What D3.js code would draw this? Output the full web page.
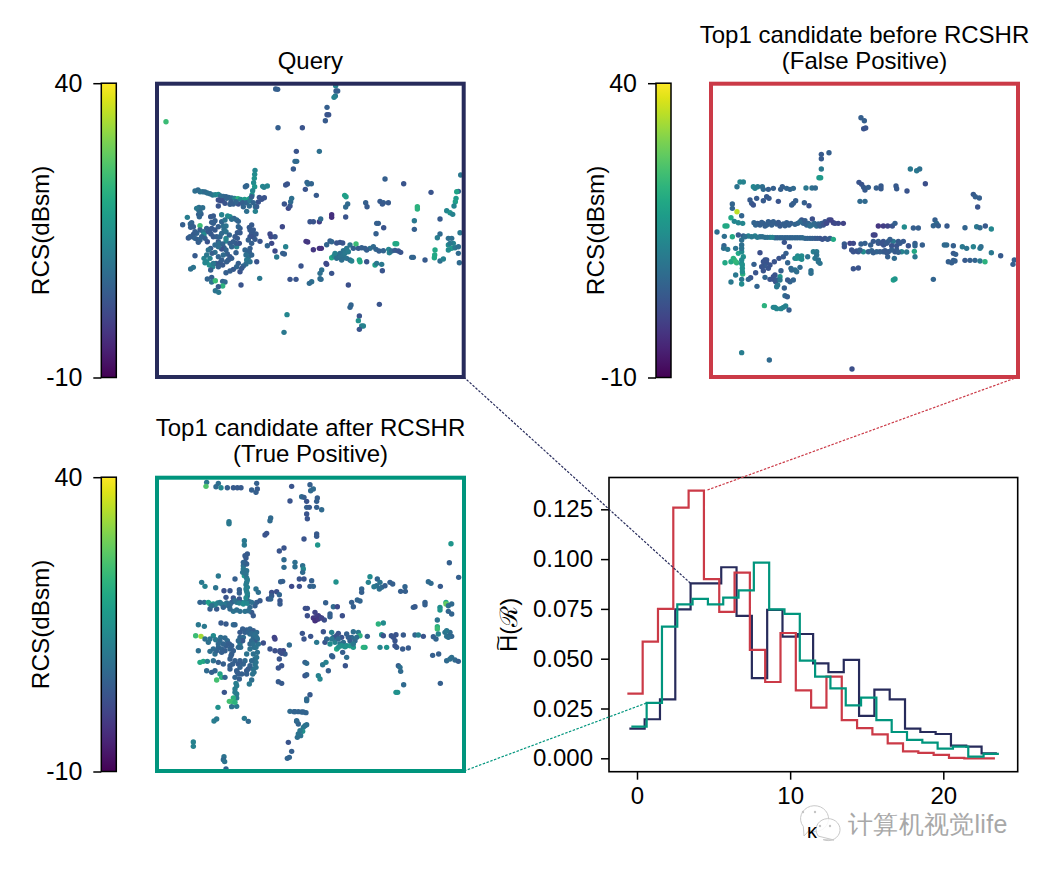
<!DOCTYPE html>
<html><head><meta charset="utf-8">
<script src="https://cdn.jsdelivr.net/npm/d3@7"></script>
<style>html,body{margin:0;background:#fff}svg{display:block}text{font-family:"Liberation Sans",Arial,sans-serif;fill:#000}</style>
</head><body><svg id="c" width="1044" height="870"></svg>
<script>
// scatter points: [x, y, RCS dBsm]; x, y in bird's-eye units (frame spans about 920 x 880 units)
const queryPoints=[[377,27,5],[383,28,5],[557,17,12],[558,33,5],[563,33,5],[556,48,10],[552,52,12],[531,82,5],[531,104,3],[536,104,3],[526,122,4],[384,143,5],[457,143,3],[48,125,24],[439,214,3],[508,214,8],[435,244,7],[440,244,7],[430,267,4],[315,271,13],[314,283,14],[313,295,15],[311,308,14],[314,320,16],[308,332,13],[306,345,15],[300,355,14],[290,317,6],[286,320,6],[338,319,13],[352,318,13],[342,322,12],[412,312,3],[407,315,3],[471,307,6],[474,312,7],[484,311,6],[466,328,3],[499,346,4],[135,333,8],[144,330,7],[150,335,8],[158,335,9],[165,336,7],[172,339,8],[180,341,8],[188,345,9],[196,344,12],[205,343,14],[212,348,8],[220,349,7],[228,350,6],[236,352,6],[245,354,7],[254,355,12],[264,356,22],[272,358,14],[284,358,17],[296,358,18],[205,360,2],[212,362,2],[218,362,2],[205,378,3],[243,365,5],[240,373,5],[250,372,5],[265,372,3],[278,368,5],[290,368,6],[298,378,7],[290,394,8],[316,380,7],[316,394,12],[320,380,5],[325,366,3],[335,358,3],[343,353,3],[300,362,10],[147,382,8],[158,383,8],[146,390,8],[153,402,5],[146,403,5],[112,412,11],[98,434,5],[121,432,6],[125,428,6],[122,442,5],[150,437,24],[182,410,4],[190,408,4],[185,427,5],[190,430,5],[195,422,5],[215,404,12],[233,408,14],[240,410,14],[252,415,6],[260,420,7],[265,424,6],[220,438,8],[228,438,9],[222,448,8],[228,455,9],[228,475,13],[228,483,12],[180,450,4],[183,462,4],[190,470,4],[150,450,5],[160,455,9],[140,460,6],[130,463,4],[115,474,4],[128,470,5],[135,475,6],[142,478,5],[150,480,6],[145,487,5],[172,485,3],[162,464,14],[205,485,5],[208,490,8],[218,492,6],[222,503,5],[228,510,6],[215,507,3],[182,505,5],[195,517,8],[186,520,5],[232,522,5],[135,527,4],[162,535,12],[170,545,14],[178,555,15],[188,560,13],[182,570,5],[198,550,4],[210,548,4],[215,540,5],[245,535,5],[258,518,5],[260,500,12],[262,458,4],[270,458,4],[262,475,4],[268,490,3],[258,490,4],[305,435,4],[298,442,4],[305,460,4],[310,470,3],[315,478,4],[330,484,3],[305,490,5],[300,505,5],[298,515,5],[293,515,6],[296,530,9],[290,540,10],[288,552,8],[320,545,3],[280,558,6],[265,550,5],[270,575,3],[250,568,4],[240,573,5],[228,578,5],[122,567,8],[130,562,9],[172,597,6],[185,592,5],[185,606,9],[196,602,24],[218,604,6],[225,606,7],[218,618,22],[205,620,4],[196,632,9],[206,637,10],[329,595,10],[273,615,3],[360,462,1],[363,470,1],[365,490,1],[375,470,3],[375,513,1],[380,531,10],[352,497,6],[397,440,1],[407,500,12],[398,520,5],[403,522,5],[403,372,3],[415,385,1],[420,378,3],[422,365,7],[425,355,8],[468,484,-2],[473,486,-2],[490,509,-2],[508,505,-3],[514,505,-3],[480,425,3],[490,425,3],[508,425,-1],[512,417,7],[545,404,-3],[545,412,-3],[587,411,3],[584,346,18],[588,350,18],[593,372,7],[587,381,7],[647,368,5],[651,380,4],[690,364,4],[700,368,5],[697,372,4],[715,368,4],[705,297,5],[761,311,3],[843,337,3],[802,380,22],[802,387,22],[793,422,10],[793,448,5],[685,430,5],[680,430,5],[701,443,3],[678,461,5],[530,494,6],[540,483,5],[545,485,6],[560,489,3],[570,487,3],[578,489,3],[618,492,24],[625,505,4],[635,503,5],[645,505,5],[660,505,8],[670,500,7],[678,508,6],[687,513,5],[716,508,13],[718,518,12],[725,513,7],[735,511,4],[745,513,3],[752,517,3],[735,491,20],[740,491,20],[785,532,6],[790,532,6],[825,540,4],[545,533,20],[552,528,14],[560,525,9],[570,520,8],[580,512,9],[590,505,10],[600,495,9],[565,532,6],[578,535,8],[590,535,9],[600,540,7],[605,543,12],[628,540,20],[630,545,20],[650,545,3],[675,555,18],[680,550,10],[695,553,10],[697,572,3],[453,558,3],[528,550,1],[530,553,1],[545,580,3],[515,570,8],[510,580,8],[510,596,8],[513,598,7],[485,605,8],[478,610,7],[420,598,3],[438,598,3],[595,615,2],[688,673,3],[603,675,6],[600,682,6],[628,708,3],[625,722,15],[635,738,12],[640,738,12],[628,748,3],[411,704,13],[402,757,10],[932,285,10],[925,334,5],[920,335,19],[918,355,17],[916,365,18],[912,378,13],[890,392,13],[900,398,15],[908,403,12],[870,417,4],[870,462,7],[862,473,11],[930,458,10],[895,475,8],[905,475,8],[895,495,14],[905,505,17],[915,503,10],[925,500,8],[855,510,20],[854,525,20],[853,533,20],[870,543,8],[880,537,12],[928,548,7],
[130,440,5],[135,455,5],[120,470,5],[155,470,6],[165,475,5],[175,455,4],[170,445,5],[185,445,4],[195,450,4],[205,440,5],[215,425,6],[225,420,9],[245,418,8],[200,470,5],[210,470,6],[215,460,7],[238,465,6],[240,490,5],[245,500,6],[205,500,8],[195,495,7],[175,510,9],[170,525,10],[205,530,6],[220,525,7],[235,540,5],[218,555,4],[205,560,5],[190,550,10],[180,535,12],[165,548,13],[300,450,4],[310,450,4],[318,462,4],[300,470,3],[295,480,5],[285,510,6],[288,525,8],[300,545,9],[305,525,6],[270,445,4],[265,440,6],[255,470,4],[250,485,5],[240,530,4],[230,545,5],[260,560,6],[275,565,4],[305,350,5],[328,352,3],[310,368,6],[280,380,6],[225,370,3],[230,355,6],[258,365,6],[148,410,6],[140,385,10],[150,395,7],[560,535,8],[570,530,9],[580,525,9],[585,520,10],[575,540,8],[555,520,12],[595,515,11],[610,505,5],[650,510,5],[700,512,6],[910,490,12],[900,490,10],[895,510,14],[925,520,7]];
const beforePoints=[[468,113,5],[478,122,5],[476,146,3],[482,144,3],[372,218,5],[349,223,4],[349,236,4],[349,267,10],[342,293,17],[347,293,17],[616,267,10],[635,272,10],[644,267,8],[105,306,13],[115,306,12],[96,320,9],[145,320,13],[150,325,12],[158,320,11],[172,320,8],[175,328,7],[190,328,5],[205,325,5],[227,328,5],[232,320,5],[245,325,6],[255,328,6],[265,325,7],[303,324,10],[321,324,8],[331,324,7],[462,307,3],[470,313,3],[476,322,4],[480,330,4],[490,322,5],[514,324,5],[528,318,4],[528,326,4],[573,318,4],[575,326,4],[606,333,3],[661,311,2],[805,343,4],[811,350,5],[823,354,5],[818,381,3],[135,360,4],[140,370,4],[145,375,3],[155,355,4],[175,362,4],[185,350,4],[192,355,4],[220,364,3],[260,375,5],[265,370,5],[272,362,5],[298,368,5],[312,377,3],[465,364,7],[480,364,7],[82,372,6],[82,385,6],[96,395,35],[110,407,6],[78,413,20],[88,424,13],[100,428,13],[113,430,13],[60,438,20],[66,438,20],[36,456,8],[147,428,6],[158,430,5],[165,435,5],[175,430,5],[185,435,6],[195,428,4],[205,425,5],[215,432,5],[225,438,4],[235,432,5],[245,428,5],[258,430,5],[270,433,6],[290,420,3],[295,430,6],[305,435,6],[322,417,2],[320,435,8],[335,438,8],[350,430,5],[360,425,3],[372,420,1],[385,428,0],[400,430,1],[415,430,0],[520,438,-2],[535,438,-1],[548,438,0],[562,438,3],[570,430,5],[598,441,14],[625,444,5],[640,444,5],[690,420,5],[695,430,7],[685,437,6],[700,437,5],[726,438,4],[780,443,6],[815,440,10],[825,443,7],[841,438,4],[859,447,13],[58,469,8],[82,470,20],[100,465,4],[115,468,5],[130,468,12],[150,468,12],[165,470,8],[180,472,8],[195,472,13],[210,473,6],[225,473,7],[240,473,6],[255,473,6],[270,473,7],[285,473,6],[300,475,6],[315,475,6],[330,475,4],[345,475,3],[360,475,3],[375,475,5],[385,478,20],[57,497,6],[56,505,8],[68,508,10],[110,480,8],[110,495,8],[92,505,9],[100,520,20],[110,515,14],[115,530,15],[88,540,24],[78,545,20],[60,548,20],[95,548,22],[110,550,15],[112,565,15],[113,582,22],[92,585,10],[110,598,10],[110,612,14],[78,606,10],[238,487,3],[253,500,3],[418,492,4],[418,500,3],[435,490,0],[445,490,1],[468,492,5],[480,490,5],[497,495,5],[505,465,0],[510,465,0],[505,484,4],[520,484,5],[535,484,3],[550,484,5],[565,484,10],[580,484,4],[595,484,4],[536,495,3],[560,497,3],[575,497,3],[610,497,3],[630,490,5],[630,497,6],[652,495,5],[440,510,3],[455,513,3],[475,515,14],[490,515,5],[515,515,6],[535,515,5],[550,515,4],[570,515,4],[590,515,12],[605,516,10],[628,514,20],[630,530,10],[548,530,5],[568,535,7],[718,495,7],[725,495,7],[745,497,5],[745,520,4],[752,523,5],[772,500,10],[785,505,9],[805,500,12],[825,505,10],[828,500,8],[780,541,4],[795,541,5],[810,541,6],[825,543,10],[840,545,22],[745,541,5],[740,548,5],[750,543,5],[859,518,10],[887,527,4],[928,540,5],[924,553,5],[165,518,2],[243,520,5],[235,530,4],[222,535,3],[208,545,3],[248,548,6],[180,540,3],[185,550,3],[178,558,4],[190,565,3],[175,572,3],[147,553,5],[152,578,3],[137,593,3],[130,598,6],[180,592,6],[195,598,3],[205,590,3],[212,605,3],[218,615,10],[225,590,16],[228,572,5],[258,565,7],[270,570,9],[285,562,7],[265,600,6],[255,605,6],[248,600,4],[278,528,14],[285,535,15],[290,528,14],[308,530,9],[325,515,11],[335,515,10],[330,535,10],[340,540,8],[345,550,9],[318,572,8],[445,566,3],[460,564,3],[565,600,18],[570,597,16],[685,598,6],[156,619,6],[238,624,5],[240,647,7],[247,650,5],[178,677,22],[205,682,12],[215,686,13],[228,686,13],[242,678,12],[252,690,5],[110,818,11],[193,840,7],[441,867,2],
[152,435,6],[170,427,5],[180,438,5],[190,425,5],[200,435,5],[220,427,4],[240,437,5],[252,435,5],[278,430,6],[285,425,7],[300,422,5],[310,430,6],[315,438,8],[328,430,7],[340,432,6],[345,438,5],[355,435,3],[365,430,1],[378,420,0],[390,430,1],[120,470,8],[140,470,10],[157,472,10],[172,470,8],[187,472,8],[202,472,12],[217,473,6],[232,473,6],[247,473,6],[262,473,6],[277,473,6],[292,473,7],[307,475,6],[322,475,5],[337,475,4],[352,478,3],[368,478,4],[445,515,3],[460,515,3],[465,510,5],[500,512,6],[505,518,5],[525,515,5],[540,512,4],[545,518,4],[560,510,5],[575,510,4],[580,517,5],[520,490,4],[530,490,3],[545,490,4],[555,478,5],[585,490,4],[110,505,9],[110,540,14],[112,555,15],[112,575,15],[85,535,22],[92,545,23],[175,545,3],[185,540,3],[195,555,3],[170,560,3],[205,598,3],[215,600,4],[210,585,3],[225,600,10],[270,535,12],[290,538,14],[275,535,15],[335,525,9],[340,545,9],[260,570,7],[275,575,8],[318,580,8],[215,620,10],[210,682,13],[235,682,12],[730,545,5]];
const afterPoints=[[170,25,10],[168,37,26],[205,28,8],[198,38,7],[213,41,13],[232,41,5],[250,41,4],[262,41,4],[273,41,4],[320,28,5],[322,45,4],[305,48,5],[318,55,5],[425,37,3],[480,32,5],[490,45,7],[482,50,7],[455,68,7],[462,70,5],[502,72,5],[500,82,5],[420,81,3],[470,82,3],[470,100,5],[478,100,4],[500,100,5],[515,107,7],[470,120,3],[472,134,3],[362,132,7],[360,140,7],[237,143,10],[237,149,10],[350,178,3],[345,183,3],[462,195,3],[500,180,4],[500,187,4],[503,213,16],[903,209,16],[283,200,10],[283,213,10],[292,240,4],[288,252,4],[285,265,4],[280,275,8],[280,285,10],[290,290,9],[283,305,16],[290,312,10],[290,325,10],[292,340,12],[290,352,12],[292,365,12],[290,378,14],[402,222,3],[388,231,3],[402,257,7],[402,280,7],[435,265,8],[435,278,8],[458,275,8],[460,285,13],[458,295,7],[898,266,5],[926,310,5],[205,306,10],[255,315,5],[155,325,10],[165,337,12],[197,341,9],[240,350,3],[222,350,2],[268,347,5],[268,357,5],[398,322,5],[392,323,5],[425,337,1],[448,337,2],[448,315,3],[462,315,3],[485,320,5],[480,337,5],[490,337,6],[558,324,15],[660,308,14],[655,325,12],[682,315,6],[690,325,9],[680,335,8],[672,338,10],[688,345,8],[695,340,7],[705,335,5],[720,325,5],[728,330,5],[752,352,5],[765,338,6],[766,352,5],[835,323,7],[843,328,7],[871,337,4],[635,345,6],[635,355,5],[318,345,9],[325,355,8],[365,355,2],[380,353,2],[365,365,4],[388,362,6],[150,385,6],[163,385,7],[180,390,22],[190,390,16],[203,387,12],[215,390,10],[230,387,8],[245,385,5],[260,385,10],[275,385,13],[285,385,12],[298,383,10],[320,385,5],[330,380,4],[355,375,3],[362,375,6],[390,380,3],[390,390,4],[228,370,3],[250,372,3],[268,375,3],[290,372,3],[180,405,5],[200,405,4],[235,395,7],[250,412,9],[270,412,8],[285,412,9],[305,415,4],[310,425,4],[315,395,5],[300,400,7],[527,386,5],[550,398,7],[562,398,1],[605,385,5],[610,398,5],[622,378,6],[630,381,6],[466,403,2],[472,403,2],[472,425,2],[495,415,0],[505,425,-1],[490,432,-2],[498,438,-3],[510,430,-1],[523,438,2],[540,420,5],[540,428,5],[577,425,2],[790,400,5],[795,398,4],[825,385,5],[825,392,5],[888,385,20],[888,390,28],[870,400,14],[870,408,16],[895,395,8],[905,390,7],[895,412,6],[905,420,6],[862,438,9],[862,458,22],[862,465,24],[865,480,12],[685,450,22],[700,447,14],[145,452,10],[163,457,10],[213,447,4],[228,450,4],[250,452,7],[255,452,6],[137,485,24],[153,487,33],[190,485,14],[197,497,10],[212,490,8],[225,492,7],[232,500,7],[278,465,5],[290,468,5],[300,465,6],[310,470,5],[320,475,7],[300,480,9],[310,490,7],[322,495,8],[325,510,9],[315,500,5],[270,490,6],[280,490,7],[340,507,2],[373,490,0],[375,495,0],[360,525,3],[375,530,2],[390,533,2],[400,530,1],[405,540,4],[418,513,7],[457,478,3],[462,495,3],[482,487,3],[500,505,10],[520,473,3],[525,505,3],[530,495,6],[545,475,12],[550,490,9],[555,505,12],[560,525,20],[570,510,10],[565,478,3],[575,490,3],[580,505,8],[590,515,14],[600,515,17],[610,473,8],[625,475,10],[630,485,22],[605,490,7],[615,500,7],[600,500,5],[610,520,17],[645,520,20],[640,520,22],[652,487,5],[695,482,15],[690,520,12],[710,520,16],[700,485,3],[724,485,3],[738,482,3],[735,500,3],[740,520,4],[760,483,4],[758,525,4],[775,522,4],[795,483,6],[805,483,12],[820,487,3],[850,488,5],[858,495,6],[885,475,9],[890,487,9],[900,485,6],[905,487,6],[848,544,5],[866,540,5],[145,530,8],[180,532,8],[195,540,8],[205,520,6],[215,525,6],[225,530,5],[240,525,6],[238,510,4],[245,540,5],[240,555,5],[270,510,10],[272,520,8],[278,500,4],[285,560,7],[290,540,9],[300,525,9],[312,520,8],[310,540,8],[315,555,8],[315,570,9],[310,585,9],[308,600,9],[305,618,8],[298,630,10],[290,590,4],[290,600,5],[265,570,4],[270,580,6],[262,595,5],[268,615,5],[258,628,11],[150,565,20],[160,562,20],[172,562,12],[190,560,8],[205,565,5],[220,570,5],[170,590,7],[185,595,5],[195,590,6],[210,600,18],[215,610,22],[200,618,25],[225,610,6],[240,575,5],[255,645,11],[260,660,11],[260,672,10],[250,672,22],[238,682,25],[248,683,24],[245,698,9],[260,697,10],[223,655,3],[204,700,15],[388,555,3],[395,575,3],[385,582,3],[465,565,5],[470,568,7],[465,605,3],[470,602,5],[385,623,4],[395,628,4],[505,605,12],[510,615,13],[518,572,10],[528,565,12],[535,590,5],[545,545,5],[548,548,5],[590,550,8],[586,575,3],[578,535,5],[745,575,5],[750,580,8],[752,592,7],[761,632,7],[738,655,15],[743,655,15],[871,628,5],[890,560,7],[905,550,8],[915,558,7],[925,562,5],[480,662,4],[470,675,7],[470,680,7],[420,712,7],[432,713,6],[445,713,6],[455,714,6],[468,716,6],[440,742,6],[445,750,6],[470,752,8],[460,760,10],[458,772,15],[452,785,9],[442,790,8],[415,805,3],[425,832,5],[412,853,6],[418,850,6],[192,741,11],[200,735,10],[283,733,10],[295,742,7],[130,804,12],[130,817,12],[222,848,9],[220,857,7],[224,863,9],[228,885,5],
[285,245,4],[290,270,5],[280,265,6],[278,295,9],[288,300,9],[292,318,11],[288,332,11],[288,345,12],[292,358,12],[288,372,14],[175,385,18],[195,392,12],[210,385,10],[222,392,10],[240,392,7],[255,380,8],[268,387,11],[280,390,14],[292,388,13],[305,385,8],[220,400,6],[240,405,7],[260,408,8],[295,410,8],[185,395,8],[270,475,4],[285,475,5],[295,475,6],[305,478,7],[315,482,8],[320,490,8],[305,500,7],[300,510,7],[310,510,8],[318,520,9],[322,535,8],[320,550,9],[318,565,9],[318,580,9],[312,595,9],[305,560,7],[300,575,6],[295,585,5],[280,570,6],[270,560,5],[255,560,5],[248,570,5],[240,585,5],[243,545,5],[250,530,5],[245,515,5],[235,510,5],[228,515,5],[220,510,6],[210,500,7],[205,510,7],[215,535,5],[200,530,6],[190,525,7],[175,505,8],[165,495,8],[180,495,9],[265,520,7],[265,500,7],[260,590,5],[265,600,5],[255,610,6],[275,600,5],[260,635,11],[255,655,11],[255,685,22],[555,490,5],[560,485,3],[545,495,10],[540,510,14],[565,495,7],[565,520,15],[575,515,15],[585,518,15],[595,490,5],[590,480,5],[620,490,8],[610,510,10],[500,428,-1],[495,440,-3],[505,435,-2],[515,432,0],[390,530,2],[395,538,2],[730,490,3],[735,515,3],[900,475,7],[895,490,8],[890,470,10],[900,555,8],[440,740,7],[450,770,10],[445,780,9],[465,755,9],[435,713,6],[460,714,6]];

// histogram values per bin k
const kBins=d3.range(24);
const histQuery=[.0149,.0196,.0296,.0748,.0878,.0878,.0959,.0715,.0402,.0745,.0611,.0624,.0477,.0433,.0494,.0213,.0345,.0296,.0149,.0132,.0122,.0064,.0059,.0025];
const histBefore=[.0325,.0586,.075,.1258,.1344,.0899,.0735,.0932,.0544,.0383,.0629,.0341,.0254,.041,.0192,.0151,.012,.0075,.0035,.0027,.0017,.0002,0,0];
const histAfter=[.0159,.0278,.0661,.0773,.08,.0773,.0807,.0843,.0982,.0748,.0725,.049,.041,.0351,.0266,.0305,.0192,.0132,.0092,.0079,.0049,.0059,.0008,.0022];
const yTicks=[0,.025,.05,.075,.1,.125], xTicks=[0,10,20], cbTicks=[-10,40];
const titles={query:["Query"],before:["Top1 candidate before RCSHR","(False Positive)"],after:["Top1 candidate after RCSHR","(True Positive)"]};
const NAVY="#272b5b",RED="#cb3a47",GREEN="#00957d",FS=24;

const svg=d3.select("#c");
const color=d3.scaleSequential(d3.interpolateViridis).domain([-10,40]);
const defs=svg.append("defs");
const grad=defs.append("linearGradient").attr("id","vir").attr("x1",0).attr("x2",0).attr("y1",1).attr("y2",0);
d3.range(0,1.001,.05).forEach(t=>grad.append("stop").attr("offset",t).attr("stop-color",d3.interpolateViridis(t)));

function panel(pts,col,x0,x1,y0,y1,dx0,dx1,cbx,lines,labelX,tY){
  const x=d3.scaleLinear().domain([dx0,dx1]).range([x0,x1]), y=d3.scaleLinear().domain([11,891]).range([y0,y1]);
  const g=svg.append("g");
  g.selectAll("circle").data(pts).join("circle").attr("cx",d=>x(d[0])).attr("cy",d=>y(d[1])).attr("r",2.7).attr("fill",d=>color(d[2]));
  g.append("rect").attr("x",x0).attr("y",y0).attr("width",x1-x0).attr("height",y1-y0).attr("fill","none").attr("stroke",col).attr("stroke-width",4);
  const cx=(x0+x1)/2;
  lines.forEach((t,i)=>svg.append("text").attr("x",cx).attr("y",tY-(lines.length-1-i)*26.5).attr("text-anchor","middle").attr("font-size",FS).text(t));
  const cs=d3.scaleLinear().domain(cbTicks).range([y1+.5,y0-.5]);
  const cb=svg.append("g");
  cb.append("rect").attr("x",cbx).attr("y",y0-.5).attr("width",15).attr("height",y1-y0+1).attr("fill","url(#vir)").attr("stroke","#000").attr("stroke-width",1.5);
  const ax=cb.append("g").attr("transform",`translate(${cbx},0)`).call(d3.axisLeft(cs).tickValues(cbTicks).tickSize(8).tickPadding(11).tickFormat(String));
  ax.select(".domain").remove();
  ax.selectAll("line").attr("stroke-width",1.5);
  ax.selectAll("text").attr("font-size",25).attr("font-family","'Liberation Sans'");
  svg.append("text").attr("transform",`translate(${labelX},${(y0+y1)/2}) rotate(-90)`).attr("text-anchor","middle").attr("font-size",24.3).text("RCS(dBsm)");
  return {x,y};
}
panel(queryPoints,NAVY,157,463.7,83.7,377,21,941,101.3,titles.query,49,69);
panel(beforePoints,RED,711,1018,83.7,377,18,939,656,titles.before,604,69);
panel(afterPoints,GREEN,157,464,477.7,771,21,942,101.3,titles.after,49,462);

// histogram
const hl=609,hr=1017.7,ht=477.5,hb=771.7;
const hx=d3.scaleLinear().domain([0,20]).range([637,943.3]);
const hy=d3.scaleLinear().domain([0,.125]).range([758.3,509.3]);
const hg=svg.append("g");
const step=d3.line().curve(d3.curveStepAfter).x(d=>hx(d[0])).y(d=>hy(d[1]));
[[histQuery,0,NAVY],[histBefore,-.13,RED],[histAfter,.13,GREEN]].forEach(([v,off,c])=>{
  const pts=kBins.map(k=>[k-.5+off,v[k]]); pts.push([kBins.length-.5+off,v[v.length-1]]);
  hg.append("path").attr("d",step(pts)).attr("fill","none").attr("stroke",c).attr("stroke-width",2.2);
});
hg.append("rect").attr("x",hl).attr("y",ht).attr("width",hr-hl).attr("height",hb-ht).attr("fill","none").attr("stroke","#000").attr("stroke-width",1.6);
const xa=hg.append("g").attr("transform",`translate(0,${hb})`).call(d3.axisBottom(hx).tickValues(xTicks).tickSize(8).tickPadding(7).tickFormat(d3.format("d")));
const ya=hg.append("g").attr("transform",`translate(${hl},0)`).call(d3.axisLeft(hy).tickValues(yTicks).tickSize(8).tickPadding(8).tickFormat(d3.format(".3f")));
[xa,ya].forEach(a=>{a.select(".domain").remove();a.selectAll("line").attr("stroke-width",1.5);a.selectAll("text").attr("font-size",24).attr("font-family","'Liberation Sans'");});
const yl=svg.append("text").attr("transform",`translate(517,652) rotate(-90)`).attr("font-size",24).attr("font-family","'DejaVu Sans'").text("H(\u211B)");
svg.append("text").attr("transform",`translate(504,643) rotate(-90) scale(1.5,1)`).attr("font-size",18).attr("text-anchor","middle").attr("font-family","'DejaVu Sans'").text("~");

// connectors
const conn=[[463.7,377,hx(3.5),hy(.0878),NAVY],[1018,377,hx(4.5),hy(.1344),RED],[464,771,hx(.63),hy(.0278),GREEN]];
conn.forEach(c=>svg.append("line").attr("x1",c[0]).attr("y1",c[1]).attr("x2",c[2]).attr("y2",c[3]).attr("stroke",c[4]).attr("stroke-width",1.2).attr("stroke-dasharray","2.5,1.5"));

// watermark and x label
const wm=svg.append("g");
const bubble=(cx,cy,rx,ry,tx,ty)=>{wm.append("path").attr("d",`M${tx},${ty}L${cx-rx*.55},${cy+ry*.65}A${rx},${ry} 0 1 1 ${cx-rx*.15},${cy+ry*.97}Z`).attr("fill","#fff").attr("fill-opacity",.85).attr("stroke","#c9c9c9").attr("stroke-width",1);};
bubble(811,818,14,13,804,836);
bubble(825,829,12,11,834,840);
[[803,812],[815,812],[820,826],[830,826]].forEach(p=>wm.append("circle").attr("cx",p[0]).attr("cy",p[1]).attr("r",1.2).attr("fill","#c4c4c4"));
wm.append("text").attr("x",848).attr("y",833).attr("font-size",25).attr("letter-spacing",.3).attr("font-family","'Noto Sans CJK SC'").attr("stroke","#fff").attr("stroke-width",2.5).attr("paint-order","stroke").style("fill","#a8a8a8").text("计算机视觉life");
svg.append("text").attr("x",812).attr("y",838).attr("text-anchor","middle").attr("font-size",20).attr("font-family","'DejaVu Sans'").text("\u03BA");
</script></body></html>
